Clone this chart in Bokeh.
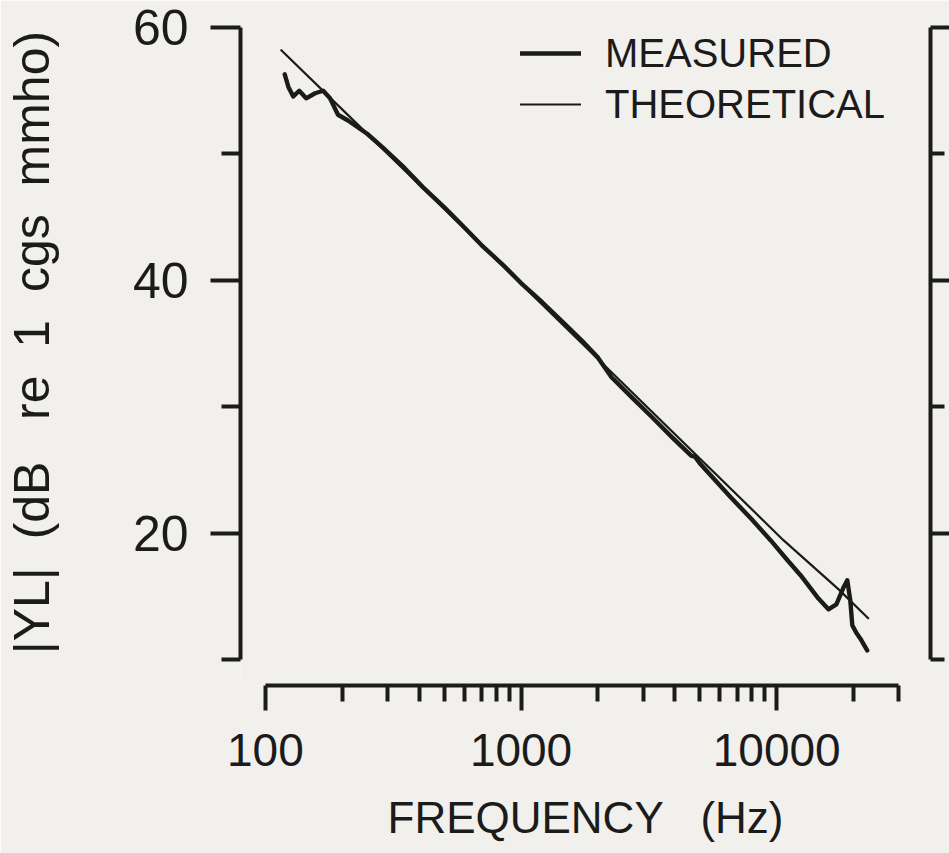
from bokeh.plotting import figure
from bokeh.models import (Range1d, LinearAxis, FixedTicker, Legend, LegendItem,
                          NumeralTickFormatter)
from bokeh.embed import file_html
from bokeh.resources import INLINE

# ---- data ----
freq_measured = [119, 123, 128.5, 135.6, 144.4, 156.5, 168.2, 179, 192.3, 210.4,
                 250, 288, 350, 412, 500, 590, 700, 843, 1000, 1207, 1450, 1728,
                 2000, 2259, 2700, 3234, 3900, 4629, 4800, 5000, 6622, 8000, 9478,
                 11000, 12400, 14570, 15940, 17120, 18230, 18890, 19410, 19760,
                 20480, 21230, 22600]
db_measured = [56.3, 55.3, 54.55, 55.0, 54.4, 54.8, 55.0, 54.4, 53.1, 52.65,
               51.6, 50.5, 48.9, 47.4, 45.8, 44.35, 42.8, 41.3, 39.8, 38.3, 36.75, 35.25,
               33.9, 32.35, 30.8, 29.25, 27.6, 26.15, 26.05, 25.55, 22.85, 21.1, 19.45,
               17.9, 16.7, 14.85, 14.0, 14.4, 15.7, 16.3, 14.7, 12.75,
               12.15, 11.7, 10.75]

freq_theoretical = [115.4, 220, 2259, 10650, 17430, 22800]
db_theoretical = [58.2, 52.7, 32.75, 19.45, 15.6, 13.3]

x_ticks = [100, 1000, 10000]
x_tick_labels = ["100", "1000", "10000"]
x_minor_ticks = [200, 300, 400, 500, 600, 700, 800, 900,
                 2000, 3000, 4000, 5000, 6000, 7000, 8000, 9000, 20000, 30000]
y_ticks = [20, 40, 60]
y_tick_labels = ["20", "40", "60"]
y_minor_ticks = [10, 30, 50]

series_labels = ["MEASURED", "THEORETICAL"]
S = "\u00a0"  # non-breaking space keeps the wide gaps of the original lettering
x_title = "FREQUENCY" + S * 3 + "(Hz)"
y_title = S * 2 + "|YL|" + S * 2 + "(dB" + S * 3 + "re" + S * 2 + "1" + S * 2 + "cgs" + S * 2 + "mmho)"

INK = "#1b1b1b"
BG = "#f2f0ec"
FONT = "Liberation Sans"

p = figure(width=949, height=853, x_axis_type="log",
           x_range=Range1d(79.9, 39970), y_range=Range1d(7.98, 60),
           output_backend="svg", toolbar_location=None,
           min_border_left=237, min_border_right=19,
           min_border_top=27, min_border_bottom=168)
p.background_fill_color = BG
p.border_fill_color = BG
p.outline_line_color = None
p.grid.visible = False

def style_axis(ax):
    ax.axis_line_color = INK
    ax.axis_line_width = 4
    ax.major_tick_line_color = INK
    ax.minor_tick_line_color = INK
    ax.major_tick_line_width = 4
    ax.minor_tick_line_width = 4
    ax.major_tick_in = 0
    ax.minor_tick_in = 0
    ax.major_label_text_color = INK
    ax.major_label_text_font = FONT
    ax.axis_label_text_color = INK
    ax.axis_label_text_font = FONT
    ax.axis_label_text_font_style = "normal"

xa = p.xaxis[0]
style_axis(xa)
xa.ticker = FixedTicker(ticks=x_ticks, minor_ticks=x_minor_ticks)
xa.formatter = NumeralTickFormatter(format="0")
xa.major_label_overrides = {t: l for t, l in zip(x_ticks, x_tick_labels)}
xa.bounds = (100, 30000)
xa.major_tick_out = 25
xa.minor_tick_out = 16
xa.major_label_standoff = 23
xa.major_label_text_font_size = "46px"
xa.axis_label = x_title
xa.axis_label_text_font_size = "44px"
xa.axis_label_standoff = 24

ya = p.yaxis[0]
style_axis(ya)
ya.ticker = FixedTicker(ticks=y_ticks, minor_ticks=y_minor_ticks)
ya.major_label_overrides = {t: l for t, l in zip(y_ticks, y_tick_labels)}
ya.bounds = (10, 60)
ya.major_tick_out = 30
ya.minor_tick_out = 19
ya.major_label_standoff = 22
ya.major_label_text_font_size = "50px"
ya.axis_label = y_title
ya.axis_label_text_font_size = "50px"
ya.axis_label_standoff = 70

# axis of the neighbouring (cut-off) panel on the right
ra = LinearAxis(ticker=FixedTicker(ticks=y_ticks, minor_ticks=y_minor_ticks),
                bounds=(10, 60))
style_axis(ra)
ra.major_tick_out = 19
ra.minor_tick_out = 14
ra.major_label_standoff = 0
ra.major_label_overrides = {t: "" for t in y_ticks}
p.add_layout(ra, "right")

rm = p.line(freq_measured, db_measured, line_color=INK, line_width=4.4,
            line_join="round", line_cap="round")
rt = p.line(freq_theoretical, db_theoretical, line_color=INK, line_width=2.2,
            line_join="round", line_cap="round")

legend = Legend(items=[LegendItem(label=series_labels[0], renderers=[rm]),
                       LegendItem(label=series_labels[1], renderers=[rt])],
                location=(280, 558), orientation="vertical",
                label_text_font=FONT, label_text_font_size="40px",
                label_text_color=INK, glyph_width=61, glyph_height=40,
                label_height=46, label_standoff=24, spacing=5,
                padding=0, margin=0, border_line_alpha=0,
                background_fill_alpha=0)
p.add_layout(legend, "center")

open("out.html", "w").write(file_html(p, INLINE))
